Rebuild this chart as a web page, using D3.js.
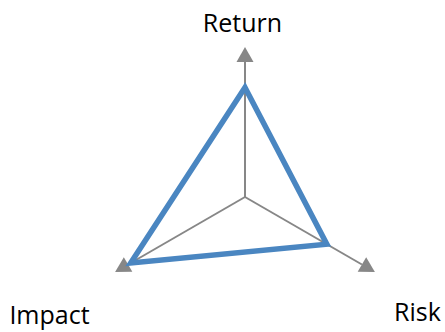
<!DOCTYPE html>
<html>
<head>
<meta charset="utf-8">
<script src="https://cdn.jsdelivr.net/npm/d3@7"></script>
<style>
  html, body { margin: 0; padding: 0; background: #fff; }
  svg { display: block; }
</style>
</head>
<body>
<svg id="chart" width="445" height="332"></svg>
<script>
// Data
const categories = ["Return", "Risk", "Impact"];
const values = [7.3, 6.3, 8.8];
const axisMax = 10;

const W = 445, H = 332;
const cx = 245, cy = 197;
const svg = d3.select("#chart");

const r = d3.scaleLinear().domain([0, axisMax]).range([0, 150]);
const angle = d3.scalePoint().domain(categories).range([0, 240]); // degrees clockwise from up
const rad = c => (angle(c) - 90) * Math.PI / 180;
const pt = (c, v) => [cx + r(v) * Math.cos(rad(c)), cy + r(v) * Math.sin(rad(c))];

const gray = "#878787";
const blue = "#4a86c1";
const headLen = 15, headHalf = 8.5;

const g = svg.append("g");

// axes with arrowheads
categories.forEach(c => {
  const a = rad(c);
  const tip = pt(c, axisMax);
  const base = [tip[0] - headLen * Math.cos(a), tip[1] - headLen * Math.sin(a)];
  g.append("line")
    .attr("x1", cx).attr("y1", cy)
    .attr("x2", base[0]).attr("y2", base[1])
    .attr("stroke", gray).attr("stroke-width", 2);
  const px = -Math.sin(a), py = Math.cos(a);
  g.append("path")
    .attr("d", d3.line()([
      tip,
      [base[0] + headHalf * px, base[1] + headHalf * py],
      [base[0] - headHalf * px, base[1] - headHalf * py]
    ]) + "Z")
    .attr("fill", gray);
});

// data polygon
const poly = categories.map((c, i) => pt(c, values[i]));
g.append("path")
  .attr("d", d3.line()(poly) + "Z")
  .attr("fill", "none")
  .attr("stroke", blue)
  .attr("stroke-width", 5.5)
  .attr("stroke-linejoin", "miter");

// labels
const labelPos = {
  "Return": { x: 242.5, y: 31.5, anchor: "middle" },
  "Risk":   { x: 417.5, y: 321, anchor: "middle" },
  "Impact": { x: 49.5, y: 324, anchor: "middle" }
};
categories.forEach(c => {
  const p = labelPos[c];
  svg.append("text")
    .attr("x", p.x).attr("y", p.y)
    .attr("text-anchor", p.anchor)
    .attr("font-family", "'Open Sans', sans-serif")
    .attr("font-size", 25)
    .attr("fill", "#000")
    .text(c);
});
</script>
</body>
</html>
